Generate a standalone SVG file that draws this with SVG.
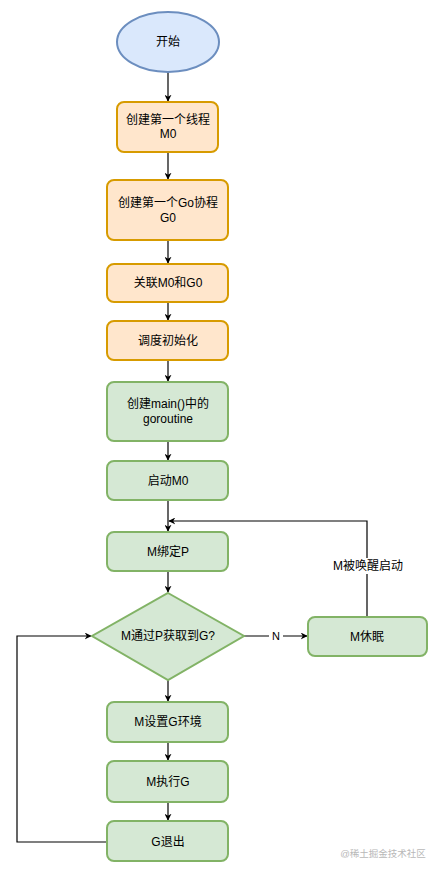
<svg xmlns="http://www.w3.org/2000/svg" width="439" height="872" viewBox="0 0 439 872">
<style>
text{font-family:"Liberation Sans","Noto Sans CJK SC",sans-serif;font-size:12px;fill:#000;text-anchor:middle;dominant-baseline:central}
.o{fill:#ffe6cc;stroke:#d79b00;stroke-width:2}
.g{fill:#d5e8d4;stroke:#82b366;stroke-width:2}
.b{fill:#dae8fc;stroke:#6c8ebf;stroke-width:2}
.c{fill:none;stroke:#000;stroke-width:1.2}
</style>
<defs>
<marker id="a" viewBox="0 0 10 10" refX="9" refY="5" markerWidth="7" markerHeight="7" orient="auto" markerUnits="userSpaceOnUse">
<path d="M0,0 L10,5 L0,10 L3,5 Z" fill="#000"/>
</marker>
</defs>
<rect width="439" height="872" fill="#fff"/>
<g id="connectors">
<path class="c" d="M168,72 V101" marker-end="url(#a)"/>
<path class="c" d="M168,152 V179" marker-end="url(#a)"/>
<path class="c" d="M168,240 V263" marker-end="url(#a)"/>
<path class="c" d="M168,302 V320" marker-end="url(#a)"/>
<path class="c" d="M168,360 V381" marker-end="url(#a)"/>
<path class="c" d="M168,441 V460" marker-end="url(#a)"/>
<path class="c" d="M168,500 V531" marker-end="url(#a)"/>
<path class="c" d="M168,571 V592" marker-end="url(#a)"/>
<path class="c" d="M244,636 H307" marker-end="url(#a)"/>
<path class="c" d="M367,616 V521 H169" marker-end="url(#a)"/>
<path class="c" d="M168,680 V701" marker-end="url(#a)"/>
<path class="c" d="M168,742 V760" marker-end="url(#a)"/>
<path class="c" d="M168,802 V820" marker-end="url(#a)"/>
<path class="c" d="M107,842 H17 V636 H91" marker-end="url(#a)"/>
<rect x="269" y="629" width="14" height="14" fill="#fff"/>
<text x="276" y="636" style="font-size:11px">N</text>
<rect x="330" y="558" width="76" height="16" fill="#fff"/>
<text x="368" y="566">M被唤醒启动</text>
</g>
<g id="start"><ellipse class="b" cx="168" cy="42" rx="51" ry="30"/><text x="168" y="42">开始</text></g>
<g id="n1"><rect class="o" x="117" y="102" width="101" height="50" rx="7"/><text x="168" y="120">创建第一个线程</text><text x="168" y="134">M0</text></g>
<g id="n2"><rect class="o" x="107" y="180" width="121" height="60" rx="7"/><text x="168" y="203">创建第一个Go协程</text><text x="168" y="218">G0</text></g>
<g id="n3"><rect class="o" x="107" y="264" width="121" height="38" rx="7"/><text x="168" y="283">关联M0和G0</text></g>
<g id="n4"><rect class="o" x="107" y="321" width="121" height="39" rx="7"/><text x="168" y="341">调度初始化</text></g>
<g id="n5"><rect class="g" x="107" y="382" width="121" height="59" rx="7"/><text x="168" y="404">创建main()中的</text><text x="168" y="419">goroutine</text></g>
<g id="n6"><rect class="g" x="107" y="461" width="121" height="39" rx="7"/><text x="168" y="481">启动M0</text></g>
<g id="n7"><rect class="g" x="107" y="532" width="121" height="39" rx="7"/><text x="168" y="552">M绑定P</text></g>
<g id="d1"><path class="g" d="M168,593 L244,636 L168,680 L92,636 Z"/><text x="168" y="636">M通过P获取到G?</text></g>
<g id="n8"><rect class="g" x="308" y="617" width="119" height="39" rx="7"/><text x="367" y="637">M休眠</text></g>
<g id="n9"><rect class="g" x="107" y="702" width="121" height="40" rx="7"/><text x="168" y="722">M设置G环境</text></g>
<g id="n10"><rect class="g" x="107" y="761" width="121" height="41" rx="7"/><text x="168" y="782">M执行G</text></g>
<g id="n11"><rect class="g" x="107" y="821" width="121" height="40" rx="7"/><text x="168" y="842">G退出</text></g>
<text x="383" y="853" style="font-size:9.5px;fill:#b8b8b8">@稀土掘金技术社区</text>
</svg>
